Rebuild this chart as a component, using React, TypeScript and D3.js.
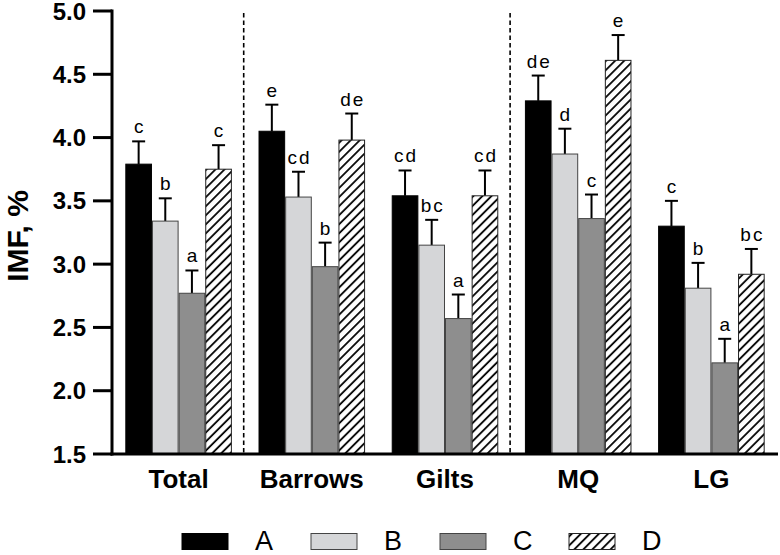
import React from "react";
import * as d3 from "d3";

const groups = ["Total", "Barrows", "Gilts", "MQ", "LG"];
const series = ["A", "B", "C", "D"];
const meanA = [3.79, 4.05, 3.54, 4.29, 3.30];
const meanB = [3.34, 3.53, 3.15, 3.87, 2.81];
const meanC = [2.77, 2.98, 2.57, 3.36, 2.22];
const meanD = [3.75, 3.98, 3.54, 4.61, 2.92];
const errA = [0.18, 0.21, 0.20, 0.20, 0.20];
const errB = [0.18, 0.20, 0.20, 0.20, 0.20];
const errC = [0.18, 0.19, 0.19, 0.19, 0.19];
const errD = [0.19, 0.21, 0.20, 0.20, 0.20];
const letA = ["c", "e", "cd", "de", "c"];
const letB = ["b", "cd", "bc", "d", "b"];
const letC = ["a", "b", "a", "c", "a"];
const letD = ["c", "de", "cd", "e", "bc"];
const yTicks = [1.5, 2.0, 2.5, 3.0, 3.5, 4.0, 4.5, 5.0];
const dividersAfter = ["Total", "Gilts"];

const means = [meanA, meanB, meanC, meanD];
const errs = [errA, errB, errC, errD];
const lets = [letA, letB, letC, letD];
const fills = ["#000000", "#d5d6d8", "#8e8e8e", "url(#hatch)"];
const strokes = ["#000000", "#444444", "#444444", "#222222"];

const W = 780;
const H = 555;
const left = 112;
const right = 778;
const top = 11;
const bottom = 454;
const FONT = "Liberation Sans, Arial, Helvetica, sans-serif";

export default function App() {
  const y = d3.scaleLinear().domain([1.5, 5.0]).range([bottom, top]);
  const x0 = d3.scaleBand<string>().domain(groups).range([left, right]).padding(0);
  const bw = x0.bandwidth();
  const x1 = d3
    .scaleBand<string>()
    .domain(series)
    .range([bw * 0.1, bw * 0.9])
    .padding(0);
  const b = x1.bandwidth();

  return (
    <svg
      width={W}
      height={H}
      style={{ position: "absolute", left: 0, top: 0, background: "#fff" }}
      fontFamily={FONT}
    >
      <defs>
        <pattern
          id="hatch"
          patternUnits="userSpaceOnUse"
          width={6.4}
          height={6.4}
          patternTransform="rotate(45)"
        >
          <rect width={6.4} height={6.4} fill="#fff" />
          <line x1={1} y1={0} x2={1} y2={6.4} stroke="#000" strokeWidth={1.8} />
        </pattern>
      </defs>

      {/* bars */}
      {groups.map((g, gi) => (
        <g key={g} transform={`translate(${x0(g)},0)`}>
          {series.map((s, si) => {
            const v = means[si][gi];
            const e = errs[si][gi];
            const bx = x1(s)!;
            const cx = bx + b / 2;
            const yt = y(v + e);
            return (
              <g key={s}>
                <line x1={cx} x2={cx} y1={y(v)} y2={yt} stroke="#000" strokeWidth={2} />
                <line x1={cx - 6.5} x2={cx + 6.5} y1={yt} y2={yt} stroke="#000" strokeWidth={2} />
                <rect
                  x={bx + 0.5}
                  y={y(v)}
                  width={b - 1}
                  height={bottom - y(v)}
                  fill={fills[si]}
                  stroke={strokes[si]}
                  strokeWidth={1}
                />
                <text
                  x={cx + 1}
                  y={yt - 8}
                  textAnchor="middle"
                  fontSize={19}
                  letterSpacing={2}
                  fill="#000"
                >
                  {lets[si][gi]}
                </text>
              </g>
            );
          })}
        </g>
      ))}

      {/* dividers */}
      {dividersAfter.map((g) => {
        const xx = x0(g)! + bw - 1.5;
        return (
          <line
            key={g}
            x1={xx}
            x2={xx}
            y1={13}
            y2={bottom}
            stroke="#000"
            strokeWidth={1.6}
            strokeDasharray="4.5,3"
          />
        );
      })}

      {/* axes */}
      <line x1={left} x2={left} y1={top - 1.5} y2={bottom + 1.5} stroke="#000" strokeWidth={3} />
      <line x1={left - 1.5} x2={right} y1={bottom} y2={bottom} stroke="#000" strokeWidth={3} />
      {yTicks.map((t) => (
        <g key={t}>
          <line x1={93} x2={left} y1={y(t)} y2={y(t)} stroke="#000" strokeWidth={3} />
          <text
            x={86}
            y={y(t)}
            dy="0.36em"
            textAnchor="end"
            fontSize={24}
            fontWeight="bold"
            fill="#000"
          >
            {t.toFixed(1)}
          </text>
        </g>
      ))}
      {groups.map((g) => (
        <text
          key={g}
          x={x0(g)! + bw / 2}
          y={488}
          textAnchor="middle"
          fontSize={26}
          fontWeight="bold"
          fill="#000"
        >
          {g}
        </text>
      ))}
      <text
        transform={`translate(28,236) rotate(-90)`}
        textAnchor="middle"
        fontSize={30}
        fontWeight="bold"
        fill="#000"
      >
        IMF, %
      </text>

      {/* legend */}
      {series.map((s, si) => {
        const lx = 182 + si * 129;
        return (
          <g key={s}>
            <rect
              x={lx}
              y={533.5}
              width={46}
              height={16}
              fill={fills[si]}
              stroke={strokes[si]}
              strokeWidth={1}
            />
            <text x={lx + 73} y={550} fontSize={27} fill="#000">
              {s}
            </text>
          </g>
        );
      })}
    </svg>
  );
}
